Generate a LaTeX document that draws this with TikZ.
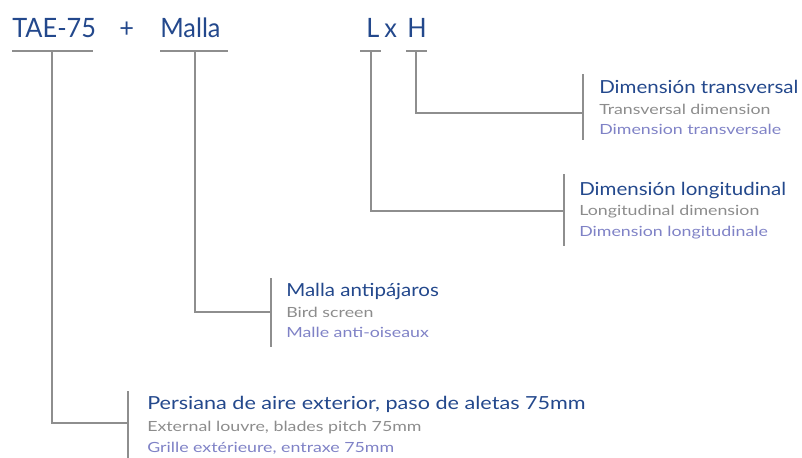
\documentclass[tikz,border=0pt]{standalone}
\usepackage{fontspec}
\setmainfont{Lato}
\usepackage{xcolor}
\definecolor{codeblue}{HTML}{23488C}
\definecolor{engray}{HTML}{8C8C8C}
\definecolor{frlila}{HTML}{7F82C6}
\definecolor{linegray}{HTML}{8E8E8E}
\tikzset{
  code/.style={anchor=base west, inner sep=0pt, color=codeblue, font=\fontsize{20}{24}\selectfont\addfontfeatures{FakeStretch=0.95}},
  title/.style={anchor=base west, inner sep=0pt, color=codeblue, font=\fontsize{13.5}{15}\selectfont\addfontfeatures{FakeStretch=1.14}},
  widetitle/.style={title, font=\fontsize{13.5}{15}\selectfont\addfontfeatures{FakeStretch=1.2}},
  english/.style={anchor=base west, inner sep=0pt, color=engray, font=\fontsize{10.5}{12}\selectfont\addfontfeatures{FakeStretch=1.27}},
  french/.style={anchor=base west, inner sep=0pt, color=frlila, font=\fontsize{10.5}{12}\selectfont\addfontfeatures{FakeStretch=1.27}},
  bar/.style={draw=linegray, line width=2.2pt}
}

\begin{document}
\begin{tikzpicture}[x=0.75pt,y=-0.75pt]
\useasboundingbox (0,0) rectangle (802,457);

\node[code] (tae) at (12,37) {TAE-75};
\node[code] (plus) at (119,37) {+};
\node[code] (malla) at (160,37) {Malla};
\node[code] (l) at (366,37) {L};
\node[code] (x) at (384,37) {x};
\node[code] (h) at (407,37) {H};

\coordinate (taeA) at (12,51);
\coordinate (taeB) at (93,51);
\coordinate (taeC) at (52,51);
\coordinate (mallaA) at (160,51);
\coordinate (mallaB) at (228,51);
\coordinate (mallaC) at (195,51);
\coordinate (lA) at (360,51);
\coordinate (lB) at (381,51);
\coordinate (lC) at (371,51);
\coordinate (hA) at (406,51);
\coordinate (hB) at (427,51);
\coordinate (hC) at (416,51);

\coordinate (hTop) at (583,74);
\coordinate (hBot) at (583,140);
\coordinate (hMid) at (583,113);
\coordinate (lTop) at (564,174);
\coordinate (lBot) at (564,246);
\coordinate (lMid) at (564,211);
\coordinate (mallaTop) at (271,278);
\coordinate (mallaBot) at (271,347);
\coordinate (mallaMid) at (271,312);
\coordinate (taeTop) at (128,391);
\coordinate (taeBot) at (128,460);
\coordinate (taeMid) at (128,423);

\node[title] (hT) at (599,93) {Dimensión transversal};
\node[english] (hE) at (599,114) {Transversal dimension};
\node[french] (hF) at (599,134) {Dimension transversale};
\node[title] (lT) at (579,195) {Dimensión longitudinal};
\node[english] (lE) at (579,215) {Longitudinal dimension};
\node[french] (lF) at (579,236) {Dimension longitudinale};
\node[title] (mallaT) at (286,296) {Malla antipájaros};
\node[english] (mallaE) at (286,317) {Bird screen};
\node[french] (mallaF) at (286,337) {Malle anti-oiseaux};
\node[widetitle] (taeT) at (147,409) {Persiana de aire exterior, paso de aletas 75mm};
\node[english] (taeE) at (147,431) {External louvre, blades pitch 75mm};
\node[french] (taeF) at (147,452) {Grille extérieure, entraxe 75mm};

\begin{scope}
\draw[bar] (taeA) -- (taeB);
\draw[bar] (mallaA) -- (mallaB);
\draw[bar] (lA) -- (lB);
\draw[bar] (hA) -- (hB);
\draw[bar] (taeTop) -- (taeBot);
\draw[bar] (mallaTop) -- (mallaBot);
\draw[bar] (lTop) -- (lBot);
\draw[bar] (hTop) -- (hBot);
\draw[bar] (taeC) |- (taeMid);
\draw[bar] (mallaC) |- (mallaMid);
\draw[bar] (lC) |- (lMid);
\draw[bar] (hC) |- (hMid);
\end{scope}

\end{tikzpicture}
\end{document}
